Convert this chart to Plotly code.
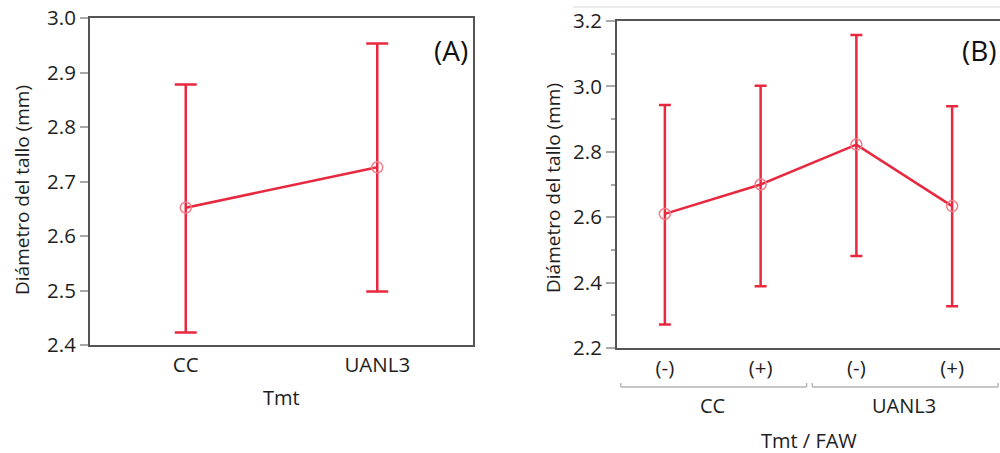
import plotly.graph_objects as go

# ---- Data (panel A) ----
cats_a = ["CC", "UANL3"]
mean_a = [2.652, 2.726]
upper_a = [2.878, 2.953]
lower_a = [2.423, 2.498]

# ---- Data (panel B) ----
groups_b = ["CC", "UANL3"]
faw_b = ["(-)", "(+)", "(-)", "(+)"]
mean_b = [2.610, 2.700, 2.822, 2.634]
upper_b = [2.943, 3.002, 3.157, 2.939]
lower_b = [2.272, 2.389, 2.481, 2.328]

RED = "#E8283E"
MARK = "#F07C8A"
FONT = "Open Sans"
TXT = "#1e1e1e"
AXC = "#555555"
TICKC = "#a8a8a8"

fig = go.Figure()

xa = list(range(len(cats_a)))
fig.add_trace(go.Scatter(
    x=xa, y=mean_a, mode="lines+markers",
    line=dict(color=RED, width=2.5),
    marker=dict(symbol="circle-open", size=11, color=MARK, line=dict(width=1.5, color=MARK)),
    error_y=dict(type="data", symmetric=False,
                 array=[u - m for u, m in zip(upper_a, mean_a)],
                 arrayminus=[m - l for m, l in zip(mean_a, lower_a)],
                 color=RED, thickness=2.5, width=11),
    xaxis="x", yaxis="y", showlegend=False, hoverinfo="skip"))

xb = list(range(len(faw_b)))
fig.add_trace(go.Scatter(
    x=xb, y=mean_b, mode="lines+markers",
    line=dict(color=RED, width=2.5),
    marker=dict(symbol="circle-open", size=11, color=MARK, line=dict(width=1.5, color=MARK)),
    error_y=dict(type="data", symmetric=False,
                 array=[u - m for u, m in zip(upper_b, mean_b)],
                 arrayminus=[m - l for m, l in zip(mean_b, lower_b)],
                 color=RED, thickness=2.5, width=6),
    xaxis="x2", yaxis="y2", showlegend=False, hoverinfo="skip"))

W, H = 1000, 453
def py(p):
    return 1 - p / H

axis_common = dict(showline=True, mirror=True, linecolor=AXC, linewidth=2,
                   showgrid=False, zeroline=False, automargin=False,
                   tickfont=dict(family=FONT, size=20.5, color=TXT))

fig.update_layout(
    width=W, height=H, margin=dict(l=0, r=0, t=0, b=0, pad=0, autoexpand=False),
    paper_bgcolor="white", plot_bgcolor="white",
    xaxis=dict(domain=[90 / W, 473 / W], range=[-0.5, 1.5],
               tickvals=xa, ticktext=cats_a, ticks="", **axis_common),
    yaxis=dict(domain=[py(345), py(18)], range=[2.4, 3.0], dtick=0.1,
               tickformat=".1f", ticks="outside", ticklen=8, tickcolor=TICKC, tickwidth=1.5,
               **axis_common),
    xaxis2=dict(domain=[617 / W, 1.0], range=[-0.5, 3.5], anchor="y2",
                tickvals=xb, ticktext=faw_b, ticks="", **axis_common),
    yaxis2=dict(domain=[py(348), py(21)], range=[2.2, 3.2], dtick=0.2, anchor="x2",
                tickformat=".1f", ticks="outside", ticklen=9, tickcolor=TICKC, tickwidth=1.5,
                minor=dict(dtick=0.1, ticks="outside", ticklen=4, tickcolor=TICKC, tickwidth=1.5),
                **axis_common),
)

def txt(text, x, y, size, xref="paper", angle=0, color=TXT):
    return dict(text=text, x=x, y=y, xref=xref, yref="paper", textangle=angle,
                xanchor="center", yanchor="middle", showarrow=False,
                font=dict(family=FONT, size=size, color=color))

ann = []
# axis titles
ann.append(txt("Diámetro del tallo (mm)", 22 / W, py(190), 19, angle=-90))
ann.append(txt("Tmt", 281 / W, py(397), 20))
ann.append(txt("Diámetro del tallo (mm)", 553 / W, py(188), 19, angle=-90))
ann.append(txt("Tmt / FAW", 1.5, py(440), 20, xref="x2"))
# panel labels
ann.append(txt("(A)", 451 / W, py(50), 28, color="#111"))
ann.append(txt("(B)", 979 / W, py(50), 28, color="#111"))

shapes = []
for g, name in enumerate(groups_b):
    x0, x1 = 2 * g - 0.46, 2 * g + 1.48
    ann.append(txt(name, 2 * g + 0.5, py(405), 20, xref="x2"))
    shapes.append(dict(type="line", xref="x2", yref="paper", x0=x0, x1=x1,
                       y0=py(387), y1=py(387), line=dict(color="#b5b5b5", width=1.5)))
    for xe in (x0, x1):
        shapes.append(dict(type="line", xref="x2", yref="paper", x0=xe, x1=xe,
                           y0=py(387), y1=py(383), line=dict(color="#b5b5b5", width=1.5)))

# faint frame line at top of panel B
shapes.append(dict(type="line", xref="paper", yref="paper", x0=573 / W, x1=1.0,
                   y0=py(7), y1=py(7), line=dict(color="#e4e4e4", width=1.5)))

fig.update_layout(annotations=ann, shapes=shapes)
fig.write_html("out.html")
